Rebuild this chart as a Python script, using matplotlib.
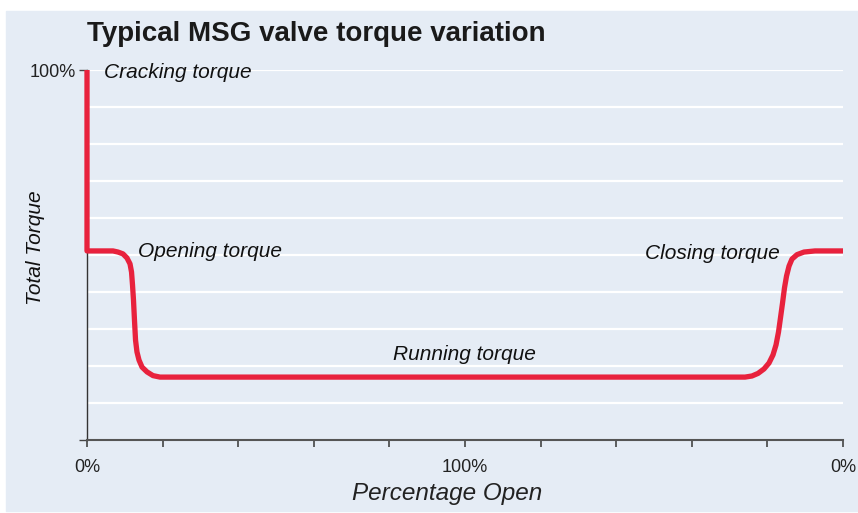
import matplotlib
matplotlib.use("Agg")
import matplotlib.pyplot as plt
from matplotlib.patches import Rectangle

# torque curve (x: 0..10 ticks, y: 0..10 gridlines)
open_x = [0.0, 0.0, 0.344, 0.410, 0.476, 0.529, 0.569, 0.589, 0.602, 0.615,
          0.628, 0.642, 0.661, 0.688, 0.728, 0.794, 0.873, 0.966, 1.10]
open_y = [10.0, 5.11, 5.11, 5.08, 5.03, 4.92, 4.76, 4.54, 4.19, 3.78,
          3.24, 2.70, 2.38, 2.16, 1.97, 1.84, 1.74, 1.70, 1.70]
close_x = [8.704, 8.796, 8.876, 8.955, 9.021, 9.074, 9.114, 9.147, 9.173,
           9.200, 9.226, 9.253, 9.286, 9.325, 9.392, 9.484, 9.630, 10.0]
close_y = [1.70, 1.73, 1.80, 1.92, 2.08, 2.30, 2.57, 2.92, 3.30,
           3.70, 4.11, 4.43, 4.70, 4.89, 5.01, 5.08, 5.11, 5.11]
curve_x = open_x + close_x
curve_y = open_y + close_y

xtick_pos = [0, 5, 10]
xtick_labels = ["0%", "100%", "0%"]

labels = ["Cracking torque", "Opening torque", "Running torque", "Closing torque"]
label_x = [0.22, 0.67, 4.05, 7.38]
label_y = [9.92, 5.1, 2.32, 5.05]

bg = "#e5ecf5"
red = "#e8223d"
fam = ["Liberation Sans Narrow", "Liberation Sans", "DejaVu Sans"]

fig = plt.figure(figsize=(8.58, 5.13), dpi=100)
fig.patches.append(Rectangle((6 / 858, 2 / 513), 852 / 858, 500 / 513,
                             transform=fig.transFigure, color=bg, zorder=-5))

ax = fig.add_axes([87 / 858, 73 / 513, 756 / 858, 370 / 513])
ax.set_facecolor("none")
ax.set_xlim(0, 10)
ax.set_ylim(0, 10)

for y in range(1, 11):
    ax.axhline(y, color="white", lw=1.6, zorder=1)

ax.plot(curve_x, curve_y, color=red, lw=3.8, solid_joinstyle="round",
        solid_capstyle="butt", clip_on=False, zorder=3)

for txt, tx, ty in zip(labels, label_x, label_y):
    ax.text(tx, ty, txt, fontsize=15, style="italic", family=fam,
            va="center", ha="left", color="#111111", zorder=4)

for s in ["top", "right"]:
    ax.spines[s].set_visible(False)
ax.spines["left"].set_color("#333333")
ax.spines["bottom"].set_color("#555555")
ax.spines["left"].set_linewidth(1.0)
ax.spines["bottom"].set_linewidth(1.5)

ax.set_xticks(range(11))
ax.set_xticklabels(["" if i not in xtick_pos else xtick_labels[xtick_pos.index(i)]
                    for i in range(11)], fontsize=13, family=fam, color="#222222")
ax.tick_params(axis="x", length=5, width=1.2, color="#444444", pad=9)
ax.set_yticks([0, 10])
ax.set_yticklabels(["", "100%"], fontsize=13, family=fam, color="#222222")
ax.tick_params(axis="y", length=6, width=1.0, color="#444444", pad=2)

ax.set_xlabel("Percentage Open", fontsize=17.5, style="italic", family=fam,
              color="#222222")
ax.xaxis.set_label_coords(0.476, -42 / 370)
ax.set_ylabel("Total Torque", fontsize=15, style="italic", family=fam,
              color="#111111")
ax.yaxis.set_label_coords(-42 / 756, 0.52)

fig.text(87 / 858, 1 - 34 / 513, "Typical MSG valve torque variation",
         fontsize=20, fontweight="bold", family=fam, color="#1a1a1a",
         va="center", ha="left")

fig.savefig("out.png", dpi=100)
